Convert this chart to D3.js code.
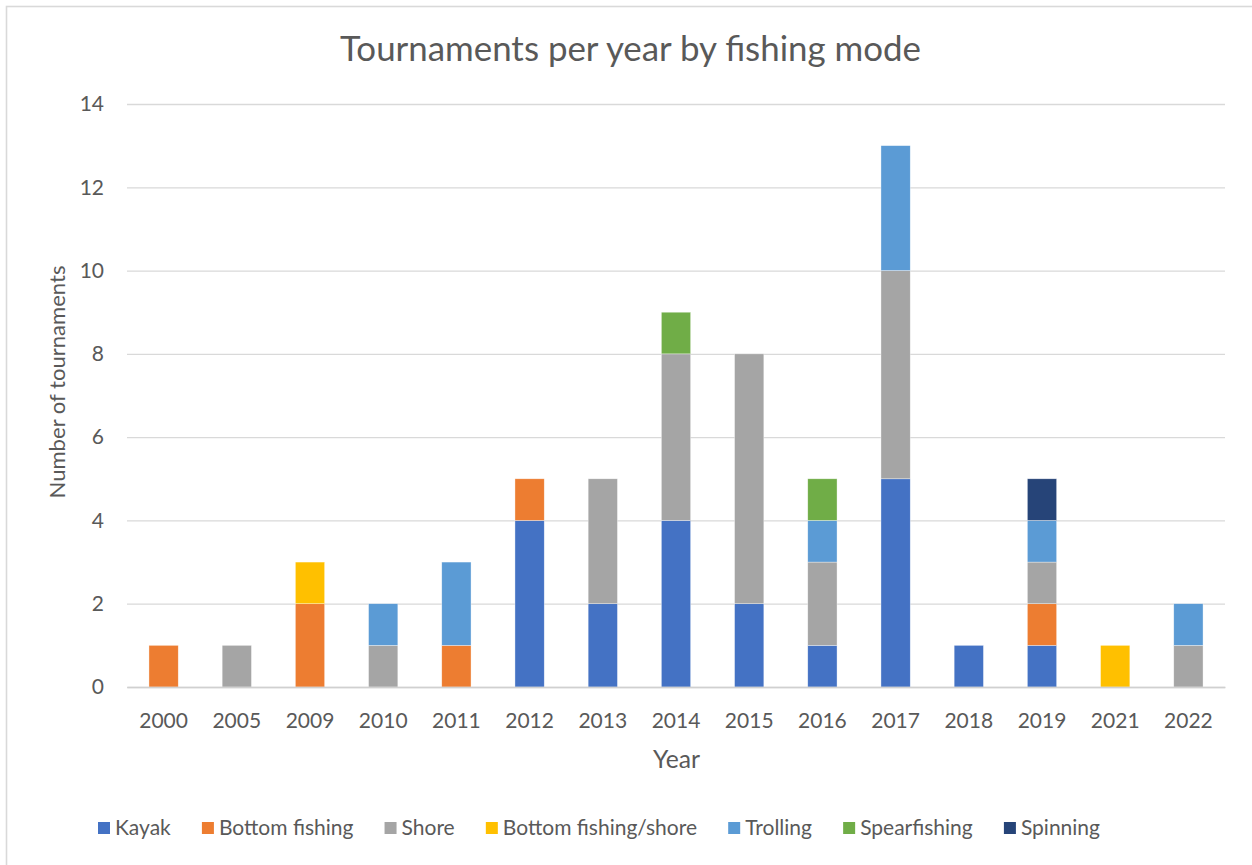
<!DOCTYPE html>
<html>
<head>
<meta charset="utf-8">
<script src="https://cdn.jsdelivr.net/npm/d3@7"></script>
<style>
  html, body { margin: 0; padding: 0; background: #ffffff; }
  svg { display: block; }
  text { font-family: Lato, "Open Sans", sans-serif; fill: #595959; }
</style>
</head>
<body>
<svg id="chart" width="1252" height="865"></svg>
<script>
// Tournaments per year, one array per fishing mode
const years = ["2000", "2005", "2009", "2010", "2011", "2012", "2013", "2014", "2015", "2016", "2017", "2018", "2019", "2021", "2022"];
const kayak         = [0, 0, 0, 0, 0, 4, 2, 4, 2, 1, 5, 1, 1, 0, 0];
const bottomFishing = [1, 0, 2, 0, 1, 1, 0, 0, 0, 0, 0, 0, 1, 0, 0];
const shore         = [0, 1, 0, 1, 0, 0, 3, 4, 6, 2, 5, 0, 1, 0, 1];
const bottomShore   = [0, 0, 1, 0, 0, 0, 0, 0, 0, 0, 0, 0, 0, 1, 0];
const trolling      = [0, 0, 0, 1, 2, 0, 0, 0, 0, 1, 3, 0, 1, 0, 1];
const spearfishing  = [0, 0, 0, 0, 0, 0, 0, 1, 0, 1, 0, 0, 0, 0, 0];
const spinning      = [0, 0, 0, 0, 0, 0, 0, 0, 0, 0, 0, 0, 1, 0, 0];

const seriesNames  = ["Kayak", "Bottom fishing", "Shore", "Bottom fishing/shore", "Trolling", "Spearfishing", "Spinning"];
const seriesValues = [kayak, bottomFishing, shore, bottomShore, trolling, spearfishing, spinning];
const seriesColors = ["#4472C4", "#ED7D31", "#A5A5A5", "#FFC000", "#5B9BD5", "#70AD47", "#264478"];
const yTicks = [0, 2, 4, 6, 8, 10, 12, 14];

const titleText = "Tournaments per year by fishing mode";
const xTitle = "Year";
const yTitle = "Number of tournaments";

// Rows for d3.stack
const rows = years.map((y, i) => {
  const r = { year: y };
  seriesNames.forEach((s, k) => { r[s] = seriesValues[k][i]; });
  return r;
});

const svg = d3.select("#chart");
const grey = "#d9d9d9";

// Chart frame
svg.append("rect")
  .attr("x", 6.5).attr("y", 6.5)
  .attr("width", 1300).attr("height", 900)
  .attr("fill", "#ffffff")
  .attr("stroke", grey).attr("stroke-width", 1.6);

const plot = { left: 127, right: 1225, top: 104, bottom: 687 };

const x = d3.scaleBand()
  .domain(years)
  .range([plot.left, plot.right])
  .paddingInner(0.6)
  .paddingOuter(0.3);

const y = d3.scaleLinear()
  .domain([0, 14])
  .range([plot.bottom, plot.top]);

// Fit a text node's font size to a given rendered width
function fitWidth(sel, target) {
  const node = sel.node();
  const size = parseFloat(sel.attr("font-size"));
  const w = node.getComputedTextLength();
  sel.attr("font-size", (size * target / w).toFixed(2));
}

// Gridlines
const yAxis = d3.axisLeft(y)
  .tickValues(yTicks)
  .tickSize(-(plot.right - plot.left))
  .tickPadding(23)
  .tickFormat(d3.format("d"));

const gy = svg.append("g")
  .attr("transform", `translate(${plot.left},0)`)
  .call(yAxis);
gy.select(".domain").remove();
gy.selectAll(".tick line").attr("stroke", grey).attr("stroke-width", 1.3);
gy.selectAll(".tick text")
  .attr("font-size", 21)
  .attr("fill", "#595959")
  .style("font-family", "Lato, sans-serif");

// Stacked bars
const stack = d3.stack().keys(seriesNames);
const layers = stack(rows);

svg.append("g")
  .selectAll("g")
  .data(layers)
  .join("g")
  .attr("fill", (d, i) => seriesColors[i])
  .selectAll("rect")
  .data(d => d.filter(p => p[1] > p[0]))
  .join("rect")
  .attr("x", d => x(d.data.year))
  .attr("y", d => y(d[1]))
  .attr("width", x.bandwidth())
  .attr("height", d => y(d[0]) - y(d[1]))
  .attr("stroke", "#ffffff")
  .attr("stroke-opacity", 0.6)
  .attr("stroke-width", 0.6);

// Category axis
const xAxis = d3.axisBottom(x).tickSize(0).tickPadding(26);
const gx = svg.append("g")
  .attr("transform", `translate(0,${plot.bottom})`)
  .call(xAxis);
gx.select(".domain").attr("stroke", "#d0d0d0").attr("stroke-width", 1.6);
gx.selectAll(".tick text")
  .attr("font-size", 21)
  .attr("fill", "#595959")
  .style("font-family", "Lato, sans-serif");

// Title
const t = svg.append("text")
  .attr("x", 630.5).attr("y", 61)
  .attr("text-anchor", "middle")
  .attr("font-size", 32)
  .text(titleText);
fitWidth(t, 581);

// Axis titles
const yt = svg.append("text")
  .attr("transform", "translate(65,382) rotate(-90)")
  .attr("text-anchor", "middle")
  .attr("font-size", 22)
  .text(yTitle);
fitWidth(yt, 233);

const xt = svg.append("text")
  .attr("x", 676.5).attr("y", 768)
  .attr("text-anchor", "middle")
  .attr("font-size", 22)
  .text(xTitle);
fitWidth(xt, 47);

// Legend: items spread between the first swatch and the end of the last label
const legend = svg.append("g");
const sw = 12, textGap = 5, legendLeft = 98, legendRight = 1100;
const items = seriesNames.map((name, i) => {
  const g = legend.append("g");
  g.append("rect").attr("width", sw).attr("height", sw).attr("y", 822).attr("fill", seriesColors[i]);
  const tx = g.append("text").attr("x", sw + textGap).attr("y", 835).attr("font-size", 21).text(name);
  return { g, w: sw + textGap + tx.node().getComputedTextLength() };
});
const total = d3.sum(items, d => d.w);
const gap = (legendRight - legendLeft - total) / (items.length - 1);
let cx = legendLeft;
items.forEach(it => {
  it.g.attr("transform", `translate(${cx},0)`);
  cx += it.w + gap;
});
</script>
</body>
</html>
